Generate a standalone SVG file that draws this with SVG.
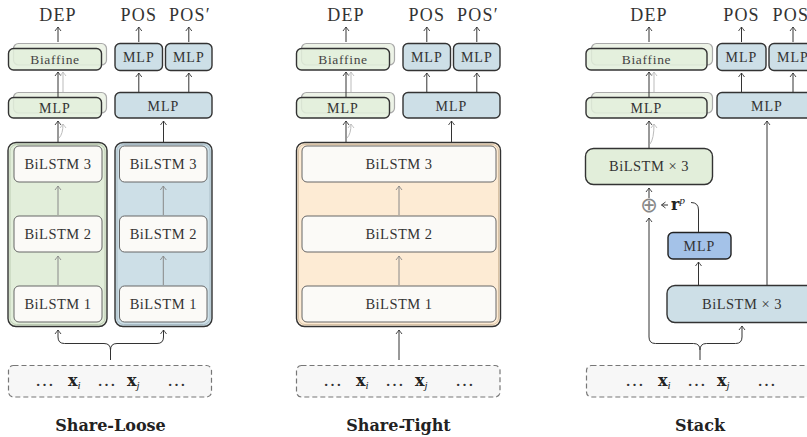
<svg xmlns="http://www.w3.org/2000/svg" width="807" height="437" viewBox="0 0 807 437">
<defs>
<marker id="ad" viewBox="-5 -4 6 8" refX="0" refY="0" markerWidth="6" markerHeight="8" markerUnits="userSpaceOnUse" orient="auto"><path d="M-4,-3 Q-1,-0.8 0,0 Q-1,0.8 -4,3" fill="none" stroke="#333" stroke-width="0.9"/></marker>
<marker id="ag" viewBox="-5 -4 6 8" refX="0" refY="0" markerWidth="6" markerHeight="8" markerUnits="userSpaceOnUse" orient="auto"><path d="M-4,-3 Q-1,-0.8 0,0 Q-1,0.8 -4,3" fill="none" stroke="#888" stroke-width="0.9"/></marker>
<marker id="al" viewBox="-5 -4 6 8" refX="0" refY="0" markerWidth="6" markerHeight="8" markerUnits="userSpaceOnUse" orient="auto"><path d="M-4,-3 Q-1,-0.8 0,0 Q-1,0.8 -4,3" fill="none" stroke="#bbb" stroke-width="0.9"/></marker>
</defs>
<style>
.t{font-family:"Liberation Serif","Times New Roman",serif;fill:#333;text-anchor:middle}
.out{font-size:18px;letter-spacing:1.2px}
.lbl{font-size:14px;letter-spacing:1px}
.bia{font-size:13.5px;letter-spacing:0.7px;fill:#444}
.bl{font-size:14.5px;letter-spacing:0.5px}
.ttl{font-family:"DejaVu Serif",serif;font-weight:bold;font-size:16px;fill:#222;text-anchor:middle}
.green{fill:#e2eeda;stroke:#333;stroke-width:1.4}
.blue{fill:#cddfe7;stroke:#333;stroke-width:1.4}
.orange{fill:#fdebd4;stroke:#333;stroke-width:1.4}
.dblue{fill:#a4c2e8;stroke:#222;stroke-width:1.4}
.shadow{fill:#edf3e7;stroke:#aaa;stroke-width:1.2}
.front{fill:#e2eeda;fill-opacity:0.85;stroke:#333;stroke-width:1.4}
.inner{fill:#fbfaf7;stroke:#666;stroke-width:1}
.inp{fill:#f7f7f7;stroke:#777;stroke-width:1.2;stroke-dasharray:5 3}
.cd{fill:none;stroke:#333;stroke-width:1;marker-end:url(#ad)}
.cg{fill:none;stroke:#888;stroke-width:1;marker-end:url(#ag)}
.cl{fill:none;stroke:#bbb;stroke-width:1;marker-end:url(#al)}
.xb{font-family:"DejaVu Serif",serif;font-weight:bold;font-size:16px;fill:#222}
.sub{font-family:"Liberation Serif",serif;font-style:italic;font-size:11px;fill:#222}
.dots{font-family:"Liberation Serif",serif;font-size:19px;fill:#333}
</style>

<!-- ===== Panel 1: Share-Loose ===== -->
<g id="p1-outputs">
<text class="t out" x="58" y="20.5">DEP</text>
<text class="t out" x="138.8" y="20.5">POS</text>
<text class="t out" x="190" y="20.5">POS′</text>
</g>
<g id="p1-biaffine">
<rect class="shadow" x="13.5" y="43.5" width="93" height="21.5" rx="5"/>
<rect class="front" x="8.5" y="48.5" width="93" height="21.5" rx="5"/>
<text class="t bia" x="55" y="63.5">Biaffine</text>
</g>
<g id="p1-mlp-pos1"><rect class="blue" x="115" y="43.5" width="47.5" height="27" rx="5"/><text class="t lbl" x="138.8" y="61.5">MLP</text></g>
<g id="p1-mlp-pos2"><rect class="blue" x="165.5" y="43.5" width="46.5" height="27" rx="5"/><text class="t lbl" x="188.8" y="61.5">MLP</text></g>
<g id="p1-mlp-dep">
<rect class="shadow" x="13.5" y="92.5" width="93" height="20.5" rx="5"/>
<rect class="front" x="8.5" y="97.5" width="93" height="20.5" rx="5"/>
<text class="t lbl" x="55" y="112.5">MLP</text>
</g>
<g id="p1-mlp-pos"><rect class="blue" x="115" y="92.5" width="97" height="25.5" rx="5"/><text class="t lbl" x="163.5" y="110.5">MLP</text></g>
<g id="p1-bilstm-green">
<rect class="green" x="8" y="142.5" width="99" height="184" rx="8"/>
<rect fill="none" stroke="#bccbb2" stroke-width="1" x="10" y="144.5" width="95" height="180" rx="6.5"/>
<rect class="inner" x="14" y="146" width="88" height="36" rx="5"/><text class="t bl" x="58" y="169">BiLSTM 3</text>
<rect class="inner" x="14" y="216" width="88" height="36" rx="5"/><text class="t bl" x="58" y="239">BiLSTM 2</text>
<rect class="inner" x="14" y="286" width="88" height="36" rx="5"/><text class="t bl" x="58" y="309">BiLSTM 1</text>
</g>
<g id="p1-bilstm-blue">
<rect class="blue" x="115" y="142.5" width="97" height="184" rx="8"/>
<rect fill="none" stroke="#a9bcc6" stroke-width="1" x="117" y="144.5" width="93" height="180" rx="6.5"/>
<rect class="inner" x="119.5" y="146" width="87.5" height="36" rx="5"/><text class="t bl" x="163.3" y="169">BiLSTM 3</text>
<rect class="inner" x="119.5" y="216" width="87.5" height="36" rx="5"/><text class="t bl" x="163.3" y="239">BiLSTM 2</text>
<rect class="inner" x="119.5" y="286" width="87.5" height="36" rx="5"/><text class="t bl" x="163.3" y="309">BiLSTM 1</text>
</g>
<g id="p1-input">
<rect class="inp" x="8.5" y="365.5" width="203" height="31.5" rx="5"/>
<text class="dots" x="35" y="386">…</text>
<text x="68" y="386"><tspan class="xb">x</tspan><tspan class="sub" dy="3">i</tspan></text>
<text class="dots" x="97" y="386">…</text>
<text x="127" y="386"><tspan class="xb">x</tspan><tspan class="sub" dy="3">j</tspan></text>
<text class="dots" x="167" y="386">…</text>
</g>
<text class="ttl" x="110.5" y="431">Share-Loose</text>

<!-- ===== Panel 2: Share-Tight ===== -->
<g id="p2-outputs">
<text class="t out" x="346" y="20.5">DEP</text>
<text class="t out" x="426.8" y="20.5">POS</text>
<text class="t out" x="478" y="20.5">POS′</text>
</g>
<g id="p2-biaffine">
<rect class="shadow" x="301.5" y="43.5" width="93" height="21.5" rx="5"/>
<rect class="front" x="296.5" y="48.5" width="93" height="21.5" rx="5"/>
<text class="t bia" x="343" y="63.5">Biaffine</text>
</g>
<g id="p2-mlp-pos1"><rect class="blue" x="403" y="43.5" width="47.5" height="27" rx="5"/><text class="t lbl" x="426.8" y="61.5">MLP</text></g>
<g id="p2-mlp-pos2"><rect class="blue" x="453.5" y="43.5" width="46.5" height="27" rx="5"/><text class="t lbl" x="476.8" y="61.5">MLP</text></g>
<g id="p2-mlp-dep">
<rect class="shadow" x="301.5" y="92.5" width="93" height="20.5" rx="5"/>
<rect class="front" x="296.5" y="97.5" width="93" height="20.5" rx="5"/>
<text class="t lbl" x="343" y="112.5">MLP</text>
</g>
<g id="p2-mlp-pos"><rect class="blue" x="403" y="92.5" width="97" height="25.5" rx="5"/><text class="t lbl" x="451.5" y="110.5">MLP</text></g>
<g id="p2-bilstm">
<rect class="orange" x="296.5" y="142.5" width="204" height="184" rx="8"/>
<rect fill="none" stroke="#d9c3a6" stroke-width="1" x="298.5" y="144.5" width="200" height="180" rx="6.5"/>
<rect class="inner" x="302" y="146" width="194" height="36" rx="5"/><text class="t bl" x="399" y="169">BiLSTM 3</text>
<rect class="inner" x="302" y="216" width="194" height="36" rx="5"/><text class="t bl" x="399" y="239">BiLSTM 2</text>
<rect class="inner" x="302" y="286" width="194" height="36" rx="5"/><text class="t bl" x="399" y="309">BiLSTM 1</text>
</g>
<g id="p2-input">
<rect class="inp" x="296.5" y="365.5" width="203.5" height="31.5" rx="5"/>
<text class="dots" x="323" y="386">…</text>
<text x="356" y="386"><tspan class="xb">x</tspan><tspan class="sub" dy="3">i</tspan></text>
<text class="dots" x="385" y="386">…</text>
<text x="415" y="386"><tspan class="xb">x</tspan><tspan class="sub" dy="3">j</tspan></text>
<text class="dots" x="455" y="386">…</text>
</g>
<text class="ttl" x="398.5" y="431">Share-Tight</text>

<!-- ===== Panel 3: Stack ===== -->
<g id="p3-outputs">
<text class="t out" x="649" y="20.5">DEP</text>
<text class="t out" x="741.5" y="20.5">POS</text>
<text class="t out" x="793.5" y="20.5">POS′</text>
</g>
<g id="p3-biaffine">
<rect class="shadow" x="591.5" y="43.5" width="121" height="21.5" rx="5"/>
<rect class="front" x="586" y="48.5" width="121" height="21.5" rx="5"/>
<text class="t bia" x="646.5" y="63.5">Biaffine</text>
</g>
<g id="p3-mlp-pos1"><rect class="blue" x="717" y="43.5" width="49" height="27" rx="5"/><text class="t lbl" x="741.5" y="61.5">MLP</text></g>
<g id="p3-mlp-pos2"><rect class="blue" x="769" y="43.5" width="48" height="27" rx="5"/><text class="t lbl" x="793" y="61.5">MLP</text></g>
<g id="p3-mlp-dep">
<rect class="shadow" x="591.5" y="92.5" width="121" height="20.5" rx="5"/>
<rect class="front" x="586" y="97.5" width="121" height="20.5" rx="5"/>
<text class="t lbl" x="646.5" y="112.5">MLP</text>
</g>
<g id="p3-mlp-pos"><rect class="blue" x="717" y="92.5" width="100" height="25.5" rx="5"/><text class="t lbl" x="767" y="110.5">MLP</text></g>
<g id="p3-bilstm-dep"><rect class="green" x="585.5" y="148.5" width="127" height="36" rx="8"/><text class="t bl" x="649" y="171">BiLSTM × 3</text></g>
<g id="p3-plus">
<text x="649" y="212" font-family="DejaVu Sans,sans-serif" font-size="21" fill="#888" text-anchor="middle">⊕</text>
<text x="671" y="209.5"><tspan class="xb" font-size="15">r</tspan><tspan class="sub" font-size="12" dy="-6">p</tspan></text>
</g>
<g id="p3-mlp-rp"><rect class="dblue" x="668" y="232.5" width="63" height="26.5" rx="5"/><text class="t lbl" x="699.5" y="250.5">MLP</text></g>
<g id="p3-bilstm-pos"><rect class="blue" x="667" y="285.5" width="150" height="37" rx="8"/><text class="t bl" x="742" y="308.5">BiLSTM × 3</text></g>
<g id="p3-input">
<rect class="inp" x="586.5" y="365.5" width="230" height="31.5" rx="5"/>
<text class="dots" x="625" y="386">…</text>
<text x="658" y="386"><tspan class="xb">x</tspan><tspan class="sub" dy="3">i</tspan></text>
<text class="dots" x="687" y="386">…</text>
<text x="717" y="386"><tspan class="xb">x</tspan><tspan class="sub" dy="3">j</tspan></text>
<text class="dots" x="757" y="386">…</text>
</g>
<text class="ttl" x="700" y="431">Stack</text>

<!-- ===== Connectors ===== -->
<g id="connectors">
<!-- panel 1 -->
<path class="cd" d="M58,42 V27"/>
<path class="cd" d="M138.8,42 V27"/>
<path class="cd" d="M188.8,42 V27"/>
<path class="cd" d="M58,97 V72"/>
<path class="cl" d="M63,92 V72"/>
<path class="cd" d="M138.8,92 V73"/>
<path class="cd" d="M188.8,92 V73"/>
<path class="cd" d="M58,142 V121"/>
<path class="cl" d="M59,138 Q63,134 63,124"/>
<path class="cd" d="M163.5,142 V121"/>
<path class="cg" d="M58,215 V186"/>
<path class="cg" d="M58,285 V256"/>
<path class="cg" d="M163.3,215 V186"/>
<path class="cg" d="M163.3,285 V256"/>
<path class="cd" d="M110.5,360 V350 Q110.5,343.5 104,343.5 H64.5 Q58,343.5 58,337 V330"/>
<path class="cd" d="M110.5,350 Q110.5,343.5 117,343.5 H157 Q163.5,343.5 163.5,337 V330"/>
<!-- panel 2 -->
<path class="cd" d="M346,42 V27"/>
<path class="cd" d="M426.8,42 V27"/>
<path class="cd" d="M476.8,42 V27"/>
<path class="cd" d="M346,97 V72"/>
<path class="cl" d="M351,92 V72"/>
<path class="cd" d="M426.8,92 V73"/>
<path class="cd" d="M476.8,92 V73"/>
<path class="cd" d="M346,142 V121"/>
<path class="cl" d="M347,138 Q351,134 351,124"/>
<path class="cd" d="M451.5,142 V121"/>
<path class="cg" d="M399,215 V186"/>
<path class="cg" d="M399,285 V256"/>
<path class="cd" d="M399,360 V330"/>
<!-- panel 3 -->
<path class="cd" d="M649,42 V27"/>
<path class="cd" d="M741.5,42 V27"/>
<path class="cd" d="M793,42 V27"/>
<path class="cd" d="M649,97 V72"/>
<path class="cl" d="M654,92 V72"/>
<path class="cd" d="M741.5,92 V73"/>
<path class="cd" d="M793,92 V73"/>
<path class="cd" d="M649,148 V121"/>
<path class="cl" d="M650,144 Q654,139 654,124"/>
<path class="cd" d="M767,285 V121"/>
<path class="cd" d="M649,198 V188"/>
<path class="cd" d="M668,205 H661.5"/>
<path fill="none" stroke="#333" stroke-width="1" d="M691,202.5 Q698.5,202.5 698.5,210 V232"/>
<path class="cd" d="M698.5,285 V262"/>
<path class="cd" d="M700,360 V350 Q700,343.5 693.5,343.5 H655.5 Q649,343.5 649,337 V218"/>
<path class="cd" d="M700,350 Q700,343.5 706.5,343.5 H735.5 Q742,343.5 742,337 V326"/>
</g>
</svg>
